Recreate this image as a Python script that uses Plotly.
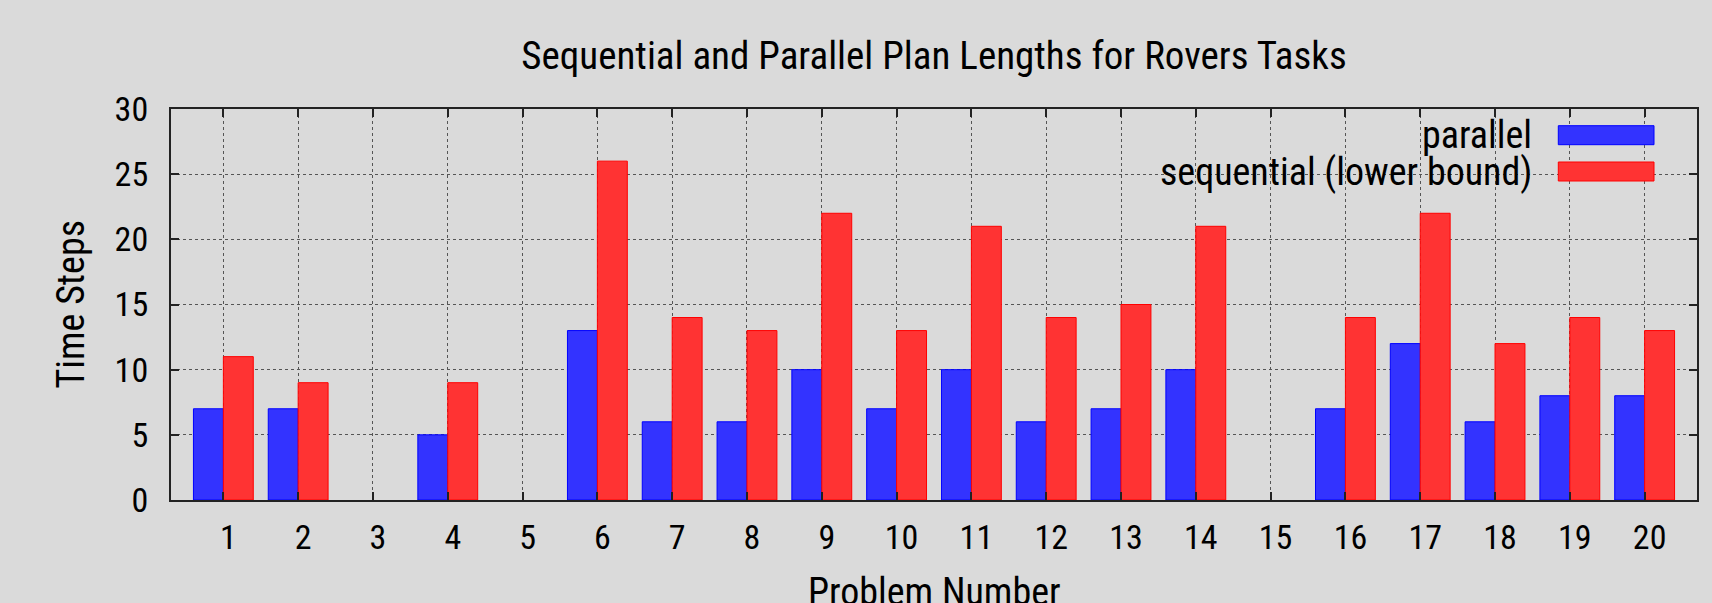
import plotly.graph_objects as go

problems = [1, 2, 3, 4, 5, 6, 7, 8, 9, 10, 11, 12, 13, 14, 15, 16, 17, 18, 19, 20]
tick_labels = ["1", "2", "3", "4", "5", "6", "7", "8", "9", "10",
               "11", "12", "13", "14", "15", "16", "17", "18", "19", "20"]
parallel = [7, 7, None, 5, None, 13, 6, 6, 10, 7, 10, 6, 7, 10, None, 7, 12, 6, 8, 8]
sequential = [11, 9, None, 9, None, 26, 14, 13, 22, 13, 21, 14, 15, 21, None, 14, 22, 12, 14, 13]
series_names = ["parallel", "sequential (lower bound)"]
y_ticks = [0, 5, 10, 15, 20, 25, 30]

FONT = "Liberation Sans Narrow, Roboto Condensed, Liberation Sans, sans-serif"
BG = "#dadada"
fills = ["#3333ff", "#ff3333"]
edges = ["#0000ff", "#ff0000"]
TICK_SIZE = 34
TEXT_SIZE = 38

fig = go.Figure()
for name, vals, fc, ec in zip(series_names, [parallel, sequential], fills, edges):
    fig.add_trace(go.Bar(x=problems, y=vals, name=name,
                         marker=dict(color=fc, line=dict(color=ec, width=1))))

fig.update_layout(
    width=1712, height=603,
    paper_bgcolor=BG, plot_bgcolor=BG,
    margin=dict(l=171, r=15, t=109, b=103),
    barmode="group", bargap=0.2, bargroupgap=0,
    showlegend=False,
    font=dict(family=FONT, size=TICK_SIZE, color="black"),
    title=dict(text="Sequential and Parallel Plan Lengths for Rovers Tasks",
               x=0.5, xref="paper", xanchor="center",
               y=1 - 55 / 603, yref="container", yanchor="middle",
               font=dict(family=FONT, size=39, color="black")),
)

fig.update_xaxes(
    range=[0.3, 20.7], tickmode="array", tickvals=problems, ticktext=tick_labels,
    ticks="inside", ticklen=8, tickcolor="#222222", tickwidth=1.5,
    showline=True, linecolor="#222222", linewidth=2, mirror="allticks",
    showgrid=True, gridcolor="#555555", griddash="dot", gridwidth=1,
    zeroline=False, ticklabelstandoff=6, ticklabelshift=5,
    tickfont=dict(family=FONT, size=TICK_SIZE, color="black"),
)
fig.update_yaxes(
    range=[0, 30], tickmode="array", tickvals=y_ticks,
    ticks="inside", ticklen=8, tickcolor="#222222", tickwidth=1.5,
    showline=True, linecolor="#222222", linewidth=2, mirror="allticks",
    showgrid=True, gridcolor="#555555", griddash="dot", gridwidth=1,
    zeroline=False, ticklabelstandoff=14,
    tickfont=dict(family=FONT, size=TICK_SIZE, color="black"),
)

def px_x(px):
    return (px - 171) / 1526

def px_y(py):
    return (500 - py) / 391

# legend background (hides grid)
fig.add_shape(type="rect", xref="paper", yref="paper", layer="between",
              x0=px_x(1014), x1=px_x(1674), y0=px_y(191), y1=1.0,
              fillcolor=BG, line=dict(width=0))

rows = [(125.7, 144.7), (162.0, 181.0)]
for (top, bot), name, fc, ec in zip(rows, series_names, fills, edges):
    fig.add_shape(type="rect", xref="paper", yref="paper", layer="above",
                  x0=px_x(1558.3), x1=px_x(1654), y0=px_y(bot), y1=px_y(top),
                  fillcolor=fc, line=dict(color=ec, width=1))
    fig.add_annotation(text=name, xref="paper", yref="paper",
                       x=px_x(1534.4), y=px_y((top + bot) / 2),
                       xanchor="right", yanchor="middle", showarrow=False,
                       font=dict(family=FONT, size=TEXT_SIZE, color="black"))

fig.add_annotation(text="Time Steps", xref="paper", yref="paper",
                   x=px_x(70), y=0.5, xanchor="center", yanchor="middle",
                   textangle=-90, showarrow=False,
                   font=dict(family=FONT, size=TEXT_SIZE, color="black"))
fig.add_annotation(text="Problem Number", xref="paper", yref="paper",
                   x=0.5, y=px_y(568), xanchor="center", yanchor="top",
                   showarrow=False,
                   font=dict(family=FONT, size=TEXT_SIZE, color="black"))

fig.write_html(
    "out.html",
    config={"displayModeBar": False},
    post_script="document.body.style.margin='0';document.body.style.background='#dadada';",
)
